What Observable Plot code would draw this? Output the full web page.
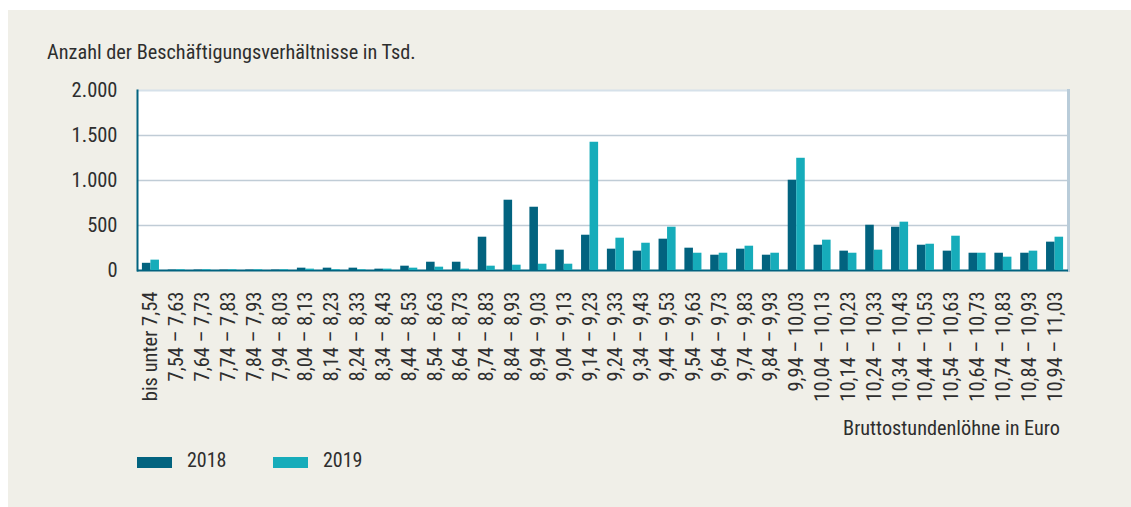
<!DOCTYPE html>
<html>
<head>
<meta charset="utf-8">
<script src="https://cdn.jsdelivr.net/npm/d3@7"></script>
<script src="https://cdn.jsdelivr.net/npm/@observablehq/plot@0.6"></script>
<style>
  html, body { margin: 0; padding: 0; background: #ffffff; }
  #wrap { position: relative; width: 1131px; height: 507px; overflow: hidden;
          font-family: "Roboto Condensed", Roboto, "DejaVu Sans Condensed", sans-serif;
          color: #2e2e2e; }
  #panel { position: absolute; left: 8px; top: 10px; width: 1123px; height: 497px; background: #f0efe8; }
  #chart { position: absolute; left: 0; top: 0; }
  .txt { position: absolute; font-size: 20px; line-height: 20px; white-space: nowrap; }
  .sw { position: absolute; width: 35px; height: 11px; }
</style>
</head>
<body>
<div id="wrap">
  <div id="panel"></div>
  <div id="chart"></div>
  <div class="txt" id="title" style="left:47px; top:42px; font-size:20.3px;">Anzahl der Beschäftigungsverhältnisse in Tsd.</div>
  <div class="txt" id="xlabel" style="right:71px; top:418px; font-size:20.3px;">Bruttostundenlöhne in Euro</div>
  <div id="legend"></div>
</div>
<script>
const categories = [
  "bis unter 7,54", "7,54 – 7,63", "7,64 – 7,73", "7,74 – 7,83", "7,84 – 7,93", "7,94 – 8,03",
  "8,04 – 8,13", "8,14 – 8,23", "8,24 – 8,33", "8,34 – 8,43", "8,44 – 8,53", "8,54 – 8,63",
  "8,64 – 8,73", "8,74 – 8,83", "8,84 – 8,93", "8,94 – 9,03", "9,04 – 9,13", "9,14 – 9,23",
  "9,24 – 9,33", "9,34 – 9,43", "9,44 – 9,53", "9,54 – 9,63", "9,64 – 9,73", "9,74 – 9,83",
  "9,84 – 9,93", "9,94 – 10,03", "10,04 – 10,13", "10,14 – 10,23", "10,24 – 10,33", "10,34 – 10,43",
  "10,44 – 10,53", "10,54 – 10,63", "10,64 – 10,73", "10,74 – 10,83", "10,84 – 10,93", "10,94 – 11,03"
];
const values2018 = [80, 5, 5, 5, 5, 5, 26, 26, 26, 15, 48, 92, 92, 370, 781, 703, 226, 392,
  237, 215, 348, 248, 170, 237, 170, 1003, 281, 215, 503, 481, 281, 215, 192, 192, 192, 315];
const values2019 = [115, 8, 8, 8, 8, 8, 15, 8, 8, 15, 26, 37, 15, 48, 59, 70, 70, 1425,
  359, 303, 481, 192, 192, 270, 192, 1247, 337, 192, 226, 537, 292, 381, 192, 148, 215, 370];
const years = ["2018", "2019"];
const yearColors = ["#02637f", "#16acba"];
const yTicks = [0, 500, 1000, 1500, 2000];

const table = [];
categories.forEach((c, i) => {
  table.push({cat: c, year: years[0], value: values2018[i]});
  table.push({cat: c, year: years[1], value: values2019[i]});
});

const de = d3.formatLocale({decimal: ",", thousands: ".", grouping: [3], currency: ["", " €"]});
const fmt = de.format(",");

const chart = Plot.plot({
  width: 1131,
  height: 507,
  marginLeft: 137,
  marginRight: 63,
  marginTop: 90,
  marginBottom: 237,
  style: {
    background: "transparent",
    fontFamily: '"Roboto Condensed", Roboto, "DejaVu Sans Condensed", sans-serif',
    fontSize: "20.5px",
    color: "#2e2e2e",
    overflow: "visible"
  },
  x: {
    type: "band",
    domain: categories,
    paddingInner: 0.34,
    paddingOuter: 0.19,
    round: false,
    label: null,
    tickRotate: -90,
    tickSize: 0,
    tickPadding: 21
  },
  y: {
    domain: [0, 2000],
    ticks: yTicks,
    tickFormat: fmt,
    tickSize: 0,
    tickPadding: 20,
    label: null
  },
  color: {domain: years, range: yearColors},
  marks: [
    Plot.frame({fill: "white", stroke: null}),
    Plot.ruleY(yTicks.filter(t => t > 0 && t < 2000), {stroke: "#c0ccd6", strokeWidth: 1.5}),
    Plot.ruleY([2000], {stroke: "#d6e1ea", strokeWidth: 2}),
    Plot.frame({anchor: "right", stroke: "#b9ccd9", strokeWidth: 3}),
    Plot.ruleY([0], {stroke: "#02637f", strokeWidth: 2}),
    Plot.frame({anchor: "left", stroke: "#02637f", strokeWidth: 2}),
    Plot.barY(table.filter(d => d.year === years[0]), {x: "cat", y: "value", fill: "year", insetRight: 8.5}),
    Plot.barY(table.filter(d => d.year === years[1]), {x: "cat", y: "value", fill: "year", insetLeft: 8.5})
  ]
});
document.getElementById("chart").appendChild(chart);

// legend
const legend = document.getElementById("legend");
const legendX = [137, 273];
years.forEach((y, i) => {
  const sw = document.createElement("div");
  sw.className = "sw";
  sw.style.left = legendX[i] + "px";
  sw.style.top = "457px";
  sw.style.background = yearColors[i];
  legend.appendChild(sw);
  const t = document.createElement("div");
  t.className = "txt";
  t.style.left = (legendX[i] + 50) + "px";
  t.style.top = "450px";
  t.textContent = y;
  legend.appendChild(t);
});
</script>
</body>
</html>
